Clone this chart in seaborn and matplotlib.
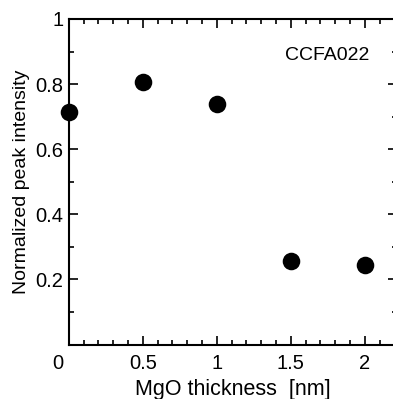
import numpy as np
import pandas as pd
import matplotlib
matplotlib.use('Agg')
import matplotlib.pyplot as plt
import matplotlib.transforms as mtransforms
from matplotlib.ticker import MultipleLocator
import seaborn as sns

# data
thickness = [0.0, 0.5, 1.0, 1.5, 2.0]
intensity = [0.715, 0.807, 0.739, 0.256, 0.244]
xticks = [0, 0.5, 1, 1.5, 2]
xticklabels = ['0', '0.5', '1', '1.5', '2']
yticks = [0.2, 0.4, 0.6, 0.8, 1.0]
yticklabels = ['0.2', '0.4', '0.6', '0.8', '1']
sample = 'CCFA022'

df = pd.DataFrame({'t': thickness, 'I': intensity})

sns.set_theme(style='ticks')
plt.rcParams['font.family'] = ['Liberation Sans', 'DejaVu Sans']

fig = plt.figure(figsize=(3.93, 3.99), dpi=100)
# right spine falls just outside the image, as in the original
ax = fig.add_axes([68.7 / 393, 1 - 344.6 / 399, (397 - 68.7) / 393, (344.6 - 19) / 399])

sns.scatterplot(data=df, x='t', y='I', ax=ax, color='black', s=160,
                edgecolor='black', linewidth=0, clip_on=False, zorder=5)

ax.set_xlim(0, (397 - 68.7) / 148.0)
ax.set_ylim(0, 1)
ax.set_xticks(xticks)
ax.set_xticklabels(xticklabels)
ax.set_yticks(yticks)
ax.set_yticklabels(yticklabels)
ax.xaxis.set_minor_locator(MultipleLocator(0.1))
ax.yaxis.set_minor_locator(MultipleLocator(0.1))

for s in ax.spines.values():
    s.set_linewidth(1.5)
    s.set_color('black')
ax.tick_params(which='both', direction='in', top=True, right=True,
               color='black', width=1.2, labelsize=14.5, labelcolor='black')
ax.tick_params(which='major', length=6.5, pad=7)
ax.tick_params(which='minor', length=3.5)
ax.tick_params(axis='y', which='major', pad=4)

ax.set_xlabel('MgO thickness  [nm]', fontsize=15.5, color='black', labelpad=4)
ax.set_ylabel('Normalized peak intensity', fontsize=14, color='black', labelpad=4)

ax.text(1.46, 0.887, sample, fontsize=14, va='center', ha='left', color='black')

# the "0" label sits a little left of the axis origin in the original
lab0 = ax.get_xticklabels()[0]
lab0.set_transform(lab0.get_transform() +
                   mtransforms.ScaledTranslation(-8 / 72, 0, fig.dpi_scale_trans))

fig.savefig('out.png', dpi=100)
